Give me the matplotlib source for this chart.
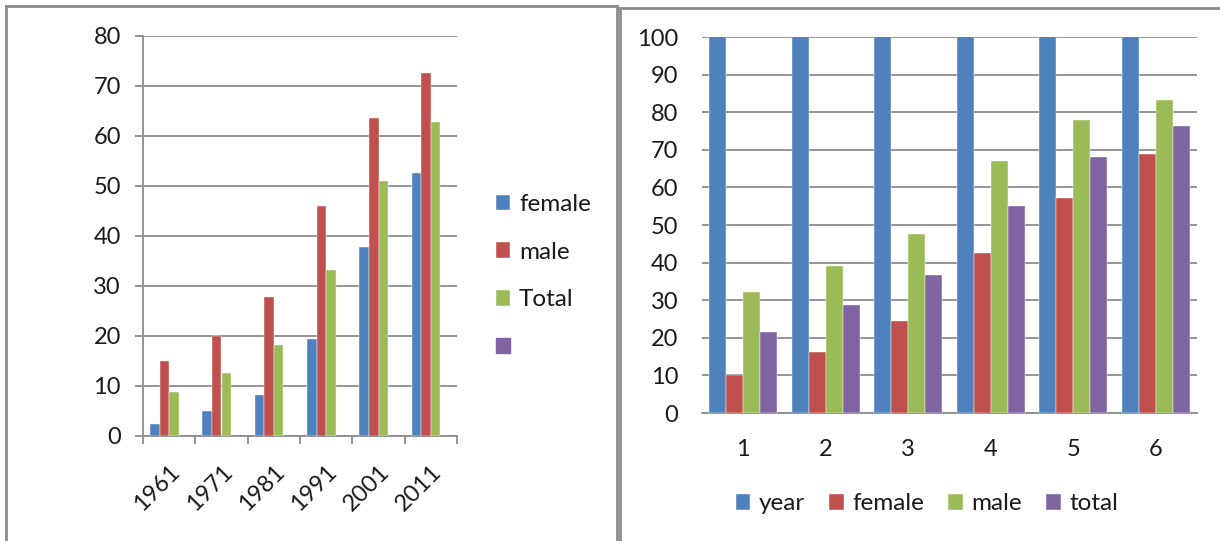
import numpy as np
import matplotlib.pyplot as plt
from matplotlib.lines import Line2D

plt.rcParams['font.family'] = ['Lato', 'DejaVu Sans']

# left chart data
years = ['1961', '1971', '1981', '1991', '2001', '2011']
left_female = [2.4, 5.0, 8.3, 19.4, 37.8, 52.7]
left_male = [15.0, 20.0, 27.8, 46.0, 63.7, 72.6]
left_total = [8.9, 12.7, 18.3, 33.2, 51.1, 62.9]

# right chart data
groups = ['1', '2', '3', '4', '5', '6']
right_year = [1961, 1971, 1981, 1991, 2001, 2011]
right_female = [10.0, 16.1, 24.4, 42.5, 57.3, 68.8]
right_male = [32.2, 39.0, 47.5, 66.9, 77.8, 83.3]
right_total = [21.6, 28.8, 36.6, 55.0, 68.1, 76.2]

BLUE = '#4F81BD'
RED = '#C0504D'
GREEN = '#9BBB59'
PURPLE = '#8064A2'
GRID = '#8C8C8C'
TXT = '#1a1a1a'

W, H = 1220, 541
fig = plt.figure(figsize=(W / 100, H / 100), dpi=100)


def px_axes(x0, y0, x1, y1):
    # pixel box (top-left origin) -> figure axes
    return fig.add_axes([x0 / W, 1 - y1 / H, (x1 - x0) / W, (y1 - y0) / H])


# ---------------- left chart ----------------
ax1 = px_axes(143, 36, 457, 436)
x = np.arange(len(years))
bw = 0.182
start = -2 * bw + bw / 2
series_l = [(left_female, BLUE, 'female'), (left_male, RED, 'male'),
            (left_total, GREEN, 'Total'), (None, PURPLE, ' ')]
handles = []
for i, (vals, col, lab) in enumerate(series_l):
    if vals is None:
        handles.append(plt.Rectangle((0, 0), 1, 1, color=col, label=lab))
        continue
    b = ax1.bar(x + start + i * bw, vals, bw, color=col, label=lab,
                edgecolor='white', linewidth=0.3, zorder=3)
    handles.append(b)
ax1.set_xlim(-0.5, len(years) - 0.5)
ax1.set_ylim(0, 80)
ax1.set_yticks(range(0, 81, 10))
ax1.yaxis.grid(True, color=GRID, linewidth=1.3)
ax1.set_axisbelow(True)
for s in ['top', 'right']:
    ax1.spines[s].set_visible(False)
ax1.spines['left'].set_color(GRID)
ax1.spines['left'].set_linewidth(1.3)
ax1.spines['bottom'].set_color(GRID)
ax1.spines['bottom'].set_linewidth(1.3)
ax1.tick_params(axis='y', length=6, width=1.3, color=GRID, pad=10,
                labelsize=17, labelcolor=TXT)
ax1.set_xticks(x)
ax1.set_xticklabels(years, rotation=45, ha='right', rotation_mode='anchor',
                    fontsize=17, color=TXT)
ax1.tick_params(axis='x', which='major', length=0, pad=18)
ax1.set_xticks(np.arange(-0.5, len(years), 1), minor=True)
ax1.tick_params(axis='x', which='minor', length=6, width=1.3, color=GRID)
fig.legend(handles=handles, loc='center left',
           bbox_to_anchor=(474 / W, 1 - 276 / H), frameon=False,
           fontsize=17.5, handlelength=0.6, handleheight=0.6,
           handletextpad=0.35, labelspacing=1.1, labelcolor=TXT)

# ---------------- right chart ----------------
ax2 = px_axes(702, 37, 1197, 413)
x2 = np.arange(len(groups))
bw2 = 0.206
start2 = -2 * bw2 + bw2 / 2
series_r = [(right_year, BLUE, 'year'), (right_female, RED, 'female'),
            (right_male, GREEN, 'male'), (right_total, PURPLE, 'total')]
for i, (vals, col, lab) in enumerate(series_r):
    ax2.bar(x2 + start2 + i * bw2, vals, bw2, color=col, label=lab,
            edgecolor='white', linewidth=0.3, zorder=3)
ax2.set_xlim(-0.5, len(groups) - 0.5)
ax2.set_ylim(0, 100)
ax2.set_yticks(range(0, 101, 10))
ax2.yaxis.grid(True, color=GRID, linewidth=1.3)
ax2.set_axisbelow(True)
for s in ['top', 'right', 'left']:
    ax2.spines[s].set_visible(False)
ax2.spines['bottom'].set_color(GRID)
ax2.spines['bottom'].set_linewidth(1.3)
ax2.set_xticks(x2)
ax2.set_xticklabels(groups)
ax2.tick_params(axis='x', length=0, pad=19, labelsize=17, labelcolor=TXT)
ax2.tick_params(axis='y', length=0, pad=17, labelsize=17, labelcolor=TXT)
fig.legend(loc='center', bbox_to_anchor=(927 / W, 1 - 504 / H), ncol=4,
           frameon=False, fontsize=17.5, handlelength=0.6, handleheight=0.6,
           handletextpad=0.35, columnspacing=1.0, labelcolor=TXT,
           handles=ax2.get_legend_handles_labels()[0])

# panel frames
def fline(xs, ys, lw=2.0):
    fig.add_artist(Line2D([v / W for v in xs], [1 - v / H for v in ys],
                          color='#8C8C8C', linewidth=lw))

fline([6, 6], [541, 6])
fline([6, 617], [6, 6])
fline([617, 617], [6, 541])
fline([620, 620], [8, 541])
fline([620, 1220], [8, 8])

fig.savefig('out.png', dpi=100)
